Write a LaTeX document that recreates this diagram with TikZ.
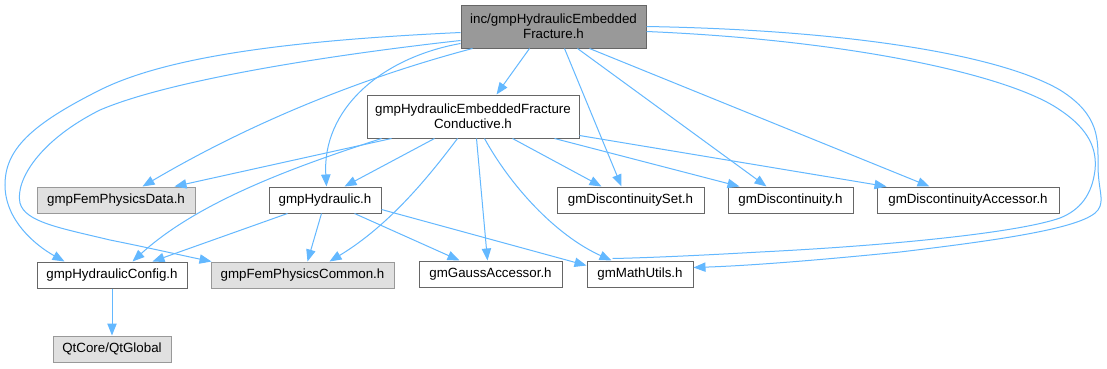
\documentclass[tikz,border=0pt]{standalone}
\usepackage{fontspec}
\setmainfont{Liberation Sans}
\usetikzlibrary{arrows.meta,calc}
\definecolor{edgec}{HTML}{63B8FF}
\definecolor{bdark}{HTML}{666666}
\definecolor{blight}{HTML}{999999}
\definecolor{gfill}{HTML}{E0E0E0}
\definecolor{tfill}{HTML}{999999}
\begin{document}
\begin{tikzpicture}[x=0.75pt,y=-0.75pt,
  wbox/.style={draw=bdark, fill=white, line width=0.75pt, inner sep=0pt,
    minimum height=19.5pt, align=center, font=\fontsize{10}{11.5}\selectfont},
  gbox/.style={wbox, draw=blight, fill=gfill},
  tbox/.style={wbox, draw=bdark, fill=tfill},
  edge/.style={draw=edgec, line width=0.75pt, -{Triangle[length=9pt,width=7pt]}},
  edgen/.style={draw=edgec, line width=0.75pt}]
\useasboundingbox (0,0) rectangle (1107,368);
\fill[white] (0,0) rectangle (1107,368);
% nodes
\node[tbox, minimum width=138.75pt, minimum height=32.25pt] (top) at (553.5,26.5) {inc/gmpHydraulicEmbedded\\Fracture.h};
\node[wbox, minimum width=159pt, minimum height=32.25pt] (cond) at (473,116.5) {gmpHydraulicEmbeddedFracture\\Conductive.h};
\node[gbox, minimum width=118.5pt] (data) at (116,200) {gmpFemPhysicsData.h};
\node[wbox, minimum width=84pt] (hyd) at (325,200) {gmpHydraulic.h};
\node[wbox, minimum width=110.25pt] (dset) at (630.5,200) {gmDiscontinuitySet.h};
\node[wbox, minimum width=93.75pt] (disc) at (790.5,200) {gmDiscontinuity.h};
\node[wbox, minimum width=136.5pt] (dacc) at (968,200) {gmDiscontinuityAccessor.h};
\node[wbox, minimum width=112.5pt] (config) at (112,275) {gmpHydraulicConfig.h};
\node[gbox, minimum width=137.25pt] (common) at (302.5,275) {gmpFemPhysicsCommon.h};
\node[wbox, minimum width=107.25pt] (gauss) at (490.5,274) {gmGaussAccessor.h};
\node[wbox, minimum width=79.5pt] (math) at (640,274) {gmMathUtils.h};
\node[gbox, minimum width=88.5pt] (qt) at (112,349) {QtCore/QtGlobal};
% edges from top
\draw[edge] ($(top.south west)+(69,0)$) -- ($(cond.north west)+(130,0)$);
\draw[edge] ($(top.south west)+(0,-5)$) .. controls (380,58) and (322,110) .. ($(hyd.north west)+(58,0)$);
\draw[edge] ($(top.south west)+(12,0)$) .. controls (357,79) and (247,125) .. ($(data.north west)+(106,0)$);
\draw[edge] ($(top.north west)+(0,28)$) .. controls (300,40) and (170,55) .. (100,90)
  .. controls (30,125) and (5,150) .. (5,185)
  .. controls (5,220) and (35,245) .. ($(config.north west)+(28,0)$);
\draw[edge] ($(top.north west)+(0,36)$) .. controls (330,55) and (170,80) .. (100,110)
  .. controls (40,140) and (15,180) .. (20,203)
  .. controls (25,222) and (60,228) .. (110,240)
  .. controls (150,248) and (180,255) .. ($(common.north west)+(1,0)$);
\draw[edge] ($(top.south west)+(104,0)$) -- ($(dset.north west)+(65,0)$);
\draw[edge] ($(top.south west)+(117,0)$) -- ($(disc.north west)+(39,0)$);
\draw[edge] ($(top.south west)+(129,0)$) -- ($(dacc.north west)+(53,0)$);
\draw[edge] ($(top.north east)+(0,22)$) .. controls (850,30) and (1000,55) .. (1060,90)
  .. controls (1100,115) and (1098,140) .. (1098,165)
  .. controls (1098,190) and (1105,200) .. (1098,210)
  .. controls (1085,228) and (1000,240) .. (900,252)
  .. controls (800,262) and (740,266) .. ($(math.north east)+(0,7)$);
\draw[edgen] ($(top.north east)+(0,27)$) .. controls (850,40) and (1010,75) .. (1060,110)
  .. controls (1090,130) and (1097,150) .. (1095,170)
  .. controls (1092,195) and (1080,210) .. (1060,218)
  .. controls (1020,232) and (900,245) .. (760,252)
  .. controls (690,256) and (640,258) .. ($(math.north west)+(26,-2)$);
% edges from cond
\draw[edge] ($(cond.south west)+(25,0)$) -- ($(data.north west)+(138,0)$);
\draw[edge] ($(cond.south west)+(15,0)$) .. controls (300,165) and (200,200) .. ($(config.north west)+(96,0)$);
\draw[edge] ($(cond.south west)+(68,0)$) -- ($(hyd.north west)+(76,0)$);
\draw[edge] ($(cond.south west)+(91,0)$) .. controls (430,175) and (390,225) .. ($(common.north west)+(119,0)$);
\draw[edge] ($(cond.south west)+(110,0)$) -- ($(gauss.north west)+(69,0)$);
\draw[edge] ($(cond.south west)+(118,0)$) .. controls (510,185) and (555,235) .. ($(math.north west)+(25,0)$);
\draw[edge] ($(cond.south west)+(146,0)$) -- ($(dset.north west)+(45,0)$);
\draw[edge] ($(cond.south west)+(188,0)$) -- ($(disc.north west)+(12,0)$);
\draw[edge] ($(cond.south east)+(0,-3)$) -- ($(dacc.north west)+(10,0)$);
% edges from hyd
\draw[edge] ($(hyd.south west)+(19,0)$) -- ($(config.north west)+(116,0)$);
\draw[edge] ($(hyd.south west)+(53,0)$) -- ($(common.north west)+(97,0)$);
\draw[edge] ($(hyd.south west)+(86,0)$) -- ($(gauss.north west)+(41,0)$);
\draw[edge] ($(hyd.south east)+(0,-4)$) -- ($(math.north west)+(0,5)$);
% config -> qt
\draw[edge] (config.south) -- (qt.north);
\end{tikzpicture}
\end{document}
